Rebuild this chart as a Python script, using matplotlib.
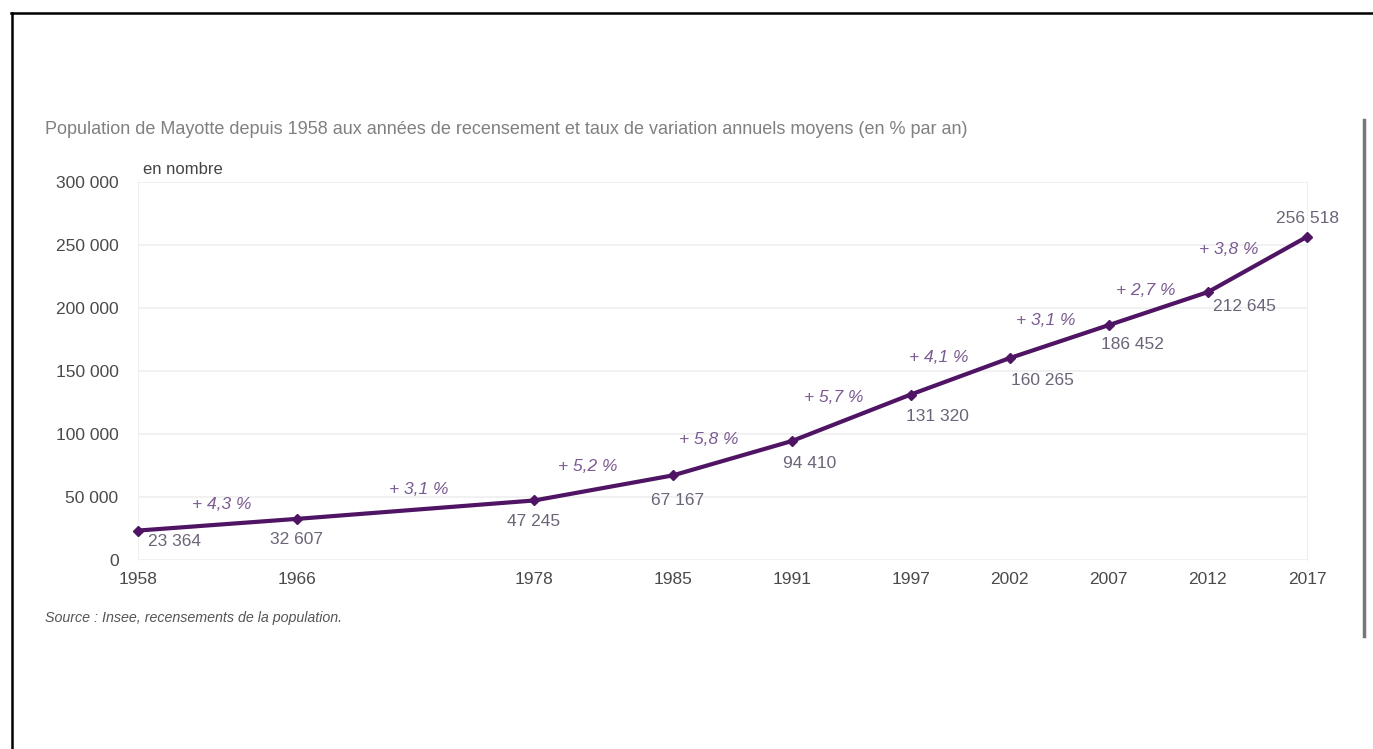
import matplotlib.pyplot as plt
from matplotlib.lines import Line2D

years = [1958, 1966, 1978, 1985, 1991, 1997, 2002, 2007, 2012, 2017]
population = [23364, 32607, 47245, 67167, 94410, 131320, 160265, 186452, 212645, 256518]
pop_labels = ['23 364', '32 607', '47 245', '67 167', '94 410', '131 320',
              '160 265', '186 452', '212 645', '256 518']
growth_labels = ['+ 4,3 %', '+ 3,1 %', '+ 5,2 %', '+ 5,8 %', '+ 5,7 %',
                 '+ 4,1 %', '+ 3,1 %', '+ 2,7 %', '+ 3,8 %']
y_ticks = [0, 50000, 100000, 150000, 200000, 250000, 300000]
y_ticklabels = ['0', '50 000', '100 000', '150 000', '200 000', '250 000', '300 000']

# label placement (pixel offsets from point / segment midpoint)
pop_offsets = [(36, -11), (0, -21), (-1, -21), (5, -25), (18, -22), (27, -22),
               (33, -22), (24, -19), (37, -14), (1, 18)]
growth_offsets = [(4, 20), (3, 20), (-16, 21), (-24, 19), (-18, 20),
                  (-22, 19), (-14, 21), (-13, 18), (-29, 15)]

plt.rcParams['font.family'] = ['Liberation Sans', 'DejaVu Sans']

W, H = 1373, 749
fig = plt.figure(figsize=(W / 100, H / 100), dpi=100)
ax = fig.add_axes([138 / W, 1 - 560 / H, (1307 - 138) / W, (560 - 182) / H])

line_color = '#4f1464'
ax.plot(years, population, color=line_color, lw=3, marker='D', ms=5,
        solid_capstyle='round', clip_on=False, zorder=3)

ax.set_xlim(1958, 2017)
ax.set_ylim(0, 300000)
ax.set_xticks(years)
ax.set_xticklabels([str(y) for y in years])
ax.set_yticks(y_ticks)
ax.set_yticklabels(y_ticklabels)
ax.tick_params(length=0, labelsize=12.5, colors='#4a4a4a')
ax.tick_params(axis='x', pad=9)
ax.tick_params(axis='y', pad=14)
ax.grid(axis='y', color='#efefef', lw=1.2)
ax.set_axisbelow(True)
for side in ['top', 'bottom']:
    ax.spines[side].set_visible(False)
for side in ['left', 'right']:
    ax.spines[side].set_color('#f0f0f0')

for x, y, lab, off in zip(years, population, pop_labels, pop_offsets):
    ax.annotate(lab, (x, y), xytext=off, textcoords='offset pixels',
                ha='center', va='center', fontsize=12.5, color='#6c6478')

for i, lab in enumerate(growth_labels):
    mx = (years[i] + years[i + 1]) / 2
    my = (population[i] + population[i + 1]) / 2
    ax.annotate(lab, (mx, my), xytext=growth_offsets[i], textcoords='offset pixels',
                ha='center', va='center', fontsize=12.5, color='#7a5a90', style='italic')

fig.text(45 / W, 1 - 130 / H,
         'Population de Mayotte depuis 1958 aux années de recensement et taux de variation annuels moyens (en % par an)',
         ha='left', va='center', fontsize=13, color='#808080')
fig.text(143 / W, 1 - 170 / H, 'en nombre', ha='left', va='center',
         fontsize=12, color='#444444')
fig.text(45 / W, 1 - 618 / H, 'Source : Insee, recensements de la population.',
         ha='left', va='center', fontsize=10.3, color='#555555', style='italic')

# frame lines of the scanned page
fig.add_artist(Line2D([11 / W, 1], [1 - 13 / H, 1 - 13 / H], color='black', lw=1.8))
fig.add_artist(Line2D([12 / W, 12 / W], [0, 1 - 13 / H], color='black', lw=1.8))
fig.add_artist(Line2D([1364 / W, 1364 / W], [1 - 120 / H, 1 - 636 / H], color='#777777', lw=2.5))

fig.savefig('out.png', dpi=100)
